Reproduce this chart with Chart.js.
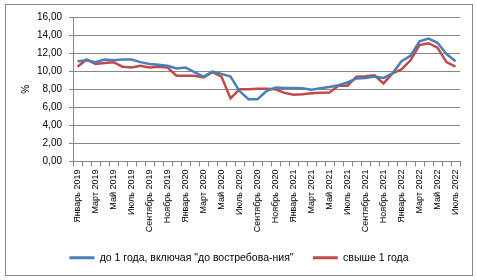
<!DOCTYPE html>
<html lang="ru">
<head>
    <meta charset="UTF-8">
    <title>Ставки по депозитам</title>
    <script src="https://cdn.jsdelivr.net/npm/chart.js"></script>
    <style>
        body, html {
            margin: 0;
            padding: 0;
            width: 477px;
            height: 280px;
            overflow: hidden;
            background: #fff;
        }
        #wrap {
            position: relative;
            width: 477px;
            height: 280px;
        }
    </style>
</head>
<body>
    <div id="wrap"><canvas id="rateChart"></canvas></div>

    <script>
        const monthNames = ["Январь", "Февраль", "Март", "Апрель", "Май", "Июнь", "Июль", "Август", "Сентябрь", "Октябрь", "Ноябрь", "Декабрь"];
        const years = [2019, 2020, 2021, 2022];
        const lastMonth = 7; // июль 2022

        const months = [];
        years.forEach(y => monthNames.forEach((m, i) => {
            if (y < 2022 || i < lastMonth) months.push(m + " " + y);
        }));

        const shortTerm = [11.1, 11.2, 11.0, 11.3, 11.2, 11.3, 11.3, 11.0, 10.8, 10.7,
                           10.6, 10.3, 10.4, 9.9, 9.4, 9.95, 9.7, 9.4, 7.8, 6.9,
                           6.9, 7.8, 8.2, 8.15, 8.15, 8.1, 7.95, 8.1, 8.25, 8.45,
                           8.75, 9.2, 9.25, 9.4, 9.25, 9.75, 11.1, 11.7, 13.3, 13.6,
                           13.15, 11.9, 11.1];
        const longTerm = [10.5, 11.3, 10.8, 10.9, 11.0, 10.5, 10.4, 10.6, 10.4, 10.5,
                          10.4, 9.5, 9.5, 9.5, 9.3, 9.9, 9.4, 7.0, 8.0, 8.0,
                          8.05, 8.05, 8.0, 7.6, 7.4, 7.45, 7.55, 7.6, 7.65, 8.4,
                          8.4, 9.4, 9.45, 9.55, 8.65, 9.75, 10.2, 11.2, 12.9, 13.1,
                          12.6, 11.0, 10.5];

        const seriesNames = ['до 1 года, включая "до востребова-ния\'\'', 'свыше 1 года'];
        const seriesColors = ['#4a7ebb', '#be4b48'];

        const gridGray = '#868686';
        const font = "'Liberation Sans', Arial, sans-serif";

        // рамка вокруг всей диаграммы
        const frame = {
            id: 'frame',
            beforeDraw(chart) {
                const c = chart.ctx;
                c.save();
                c.fillStyle = '#fff';
                c.fillRect(0, 0, chart.width, chart.height);
                c.strokeStyle = gridGray;
                c.lineWidth = 1;
                c.strokeRect(5.5, 4.5, 467, 271);
                c.restore();
            }
        };

        const ctx = document.getElementById('rateChart').getContext('2d');
        new Chart(ctx, {
            type: 'line',
            data: {
                labels: months,
                datasets: [
                    {
                        label: seriesNames[0],
                        data: shortTerm,
                        borderColor: seriesColors[0],
                        backgroundColor: seriesColors[0],
                        borderWidth: 2.5,
                        pointRadius: 0,
                        tension: 0
                    },
                    {
                        label: seriesNames[1],
                        data: longTerm,
                        borderColor: seriesColors[1],
                        backgroundColor: seriesColors[1],
                        borderWidth: 2.5,
                        pointRadius: 0,
                        tension: 0
                    }
                ]
            },
            options: {
                responsive: true,
                maintainAspectRatio: false,
                animation: false,
                layout: { padding: { left: 18, right: 17, top: 17, bottom: 7 } },
                scales: {
                    x: {
                        offset: true,
                        grid: { display: true, drawOnChartArea: false, offset: true, color: gridGray, tickLength: 5, tickColor: gridGray },
                        border: { color: gridGray },
                        ticks: {
                            autoSkip: false,
                            maxRotation: 90,
                            minRotation: 90,
                            padding: 3,
                            color: '#000',
                            font: { family: font, size: 9 },
                            callback: (v, i) => i % 2 === 0 ? months[i] : ''
                        },
                        afterFit: s => { s.height = 72; }
                    },
                    y: {
                        min: 0,
                        max: 16,
                        grid: { color: gridGray, tickLength: 4, tickColor: gridGray },
                        border: { color: gridGray },
                        ticks: {
                            stepSize: 2,
                            padding: 7,
                            color: '#000',
                            font: { family: font, size: 10 },
                            callback: v => v.toFixed(2).replace('.', ',')
                        },
                        title: { display: true, text: '%', color: '#000', font: { family: font, size: 10 }, padding: { top: 2, bottom: 0 } },
                        afterFit: s => { s.width = 55; }
                    }
                },
                plugins: {
                    legend: {
                        position: 'bottom',
                        labels: {
                            boxWidth: 25,
                            boxHeight: 3,
                            padding: 19,
                            color: '#000',
                            font: { family: font, size: 10.5 },
                            generateLabels: chart => chart.data.datasets.map((ds, i) => ({
                                text: ds.label,
                                fillStyle: seriesColors[i],
                                strokeStyle: seriesColors[i],
                                lineWidth: 0,
                                datasetIndex: i,
                                hidden: false
                            }))
                        }
                    },
                    tooltip: { enabled: false }
                }
            },
            plugins: [frame]
        });
    </script>
</body>
</html>
